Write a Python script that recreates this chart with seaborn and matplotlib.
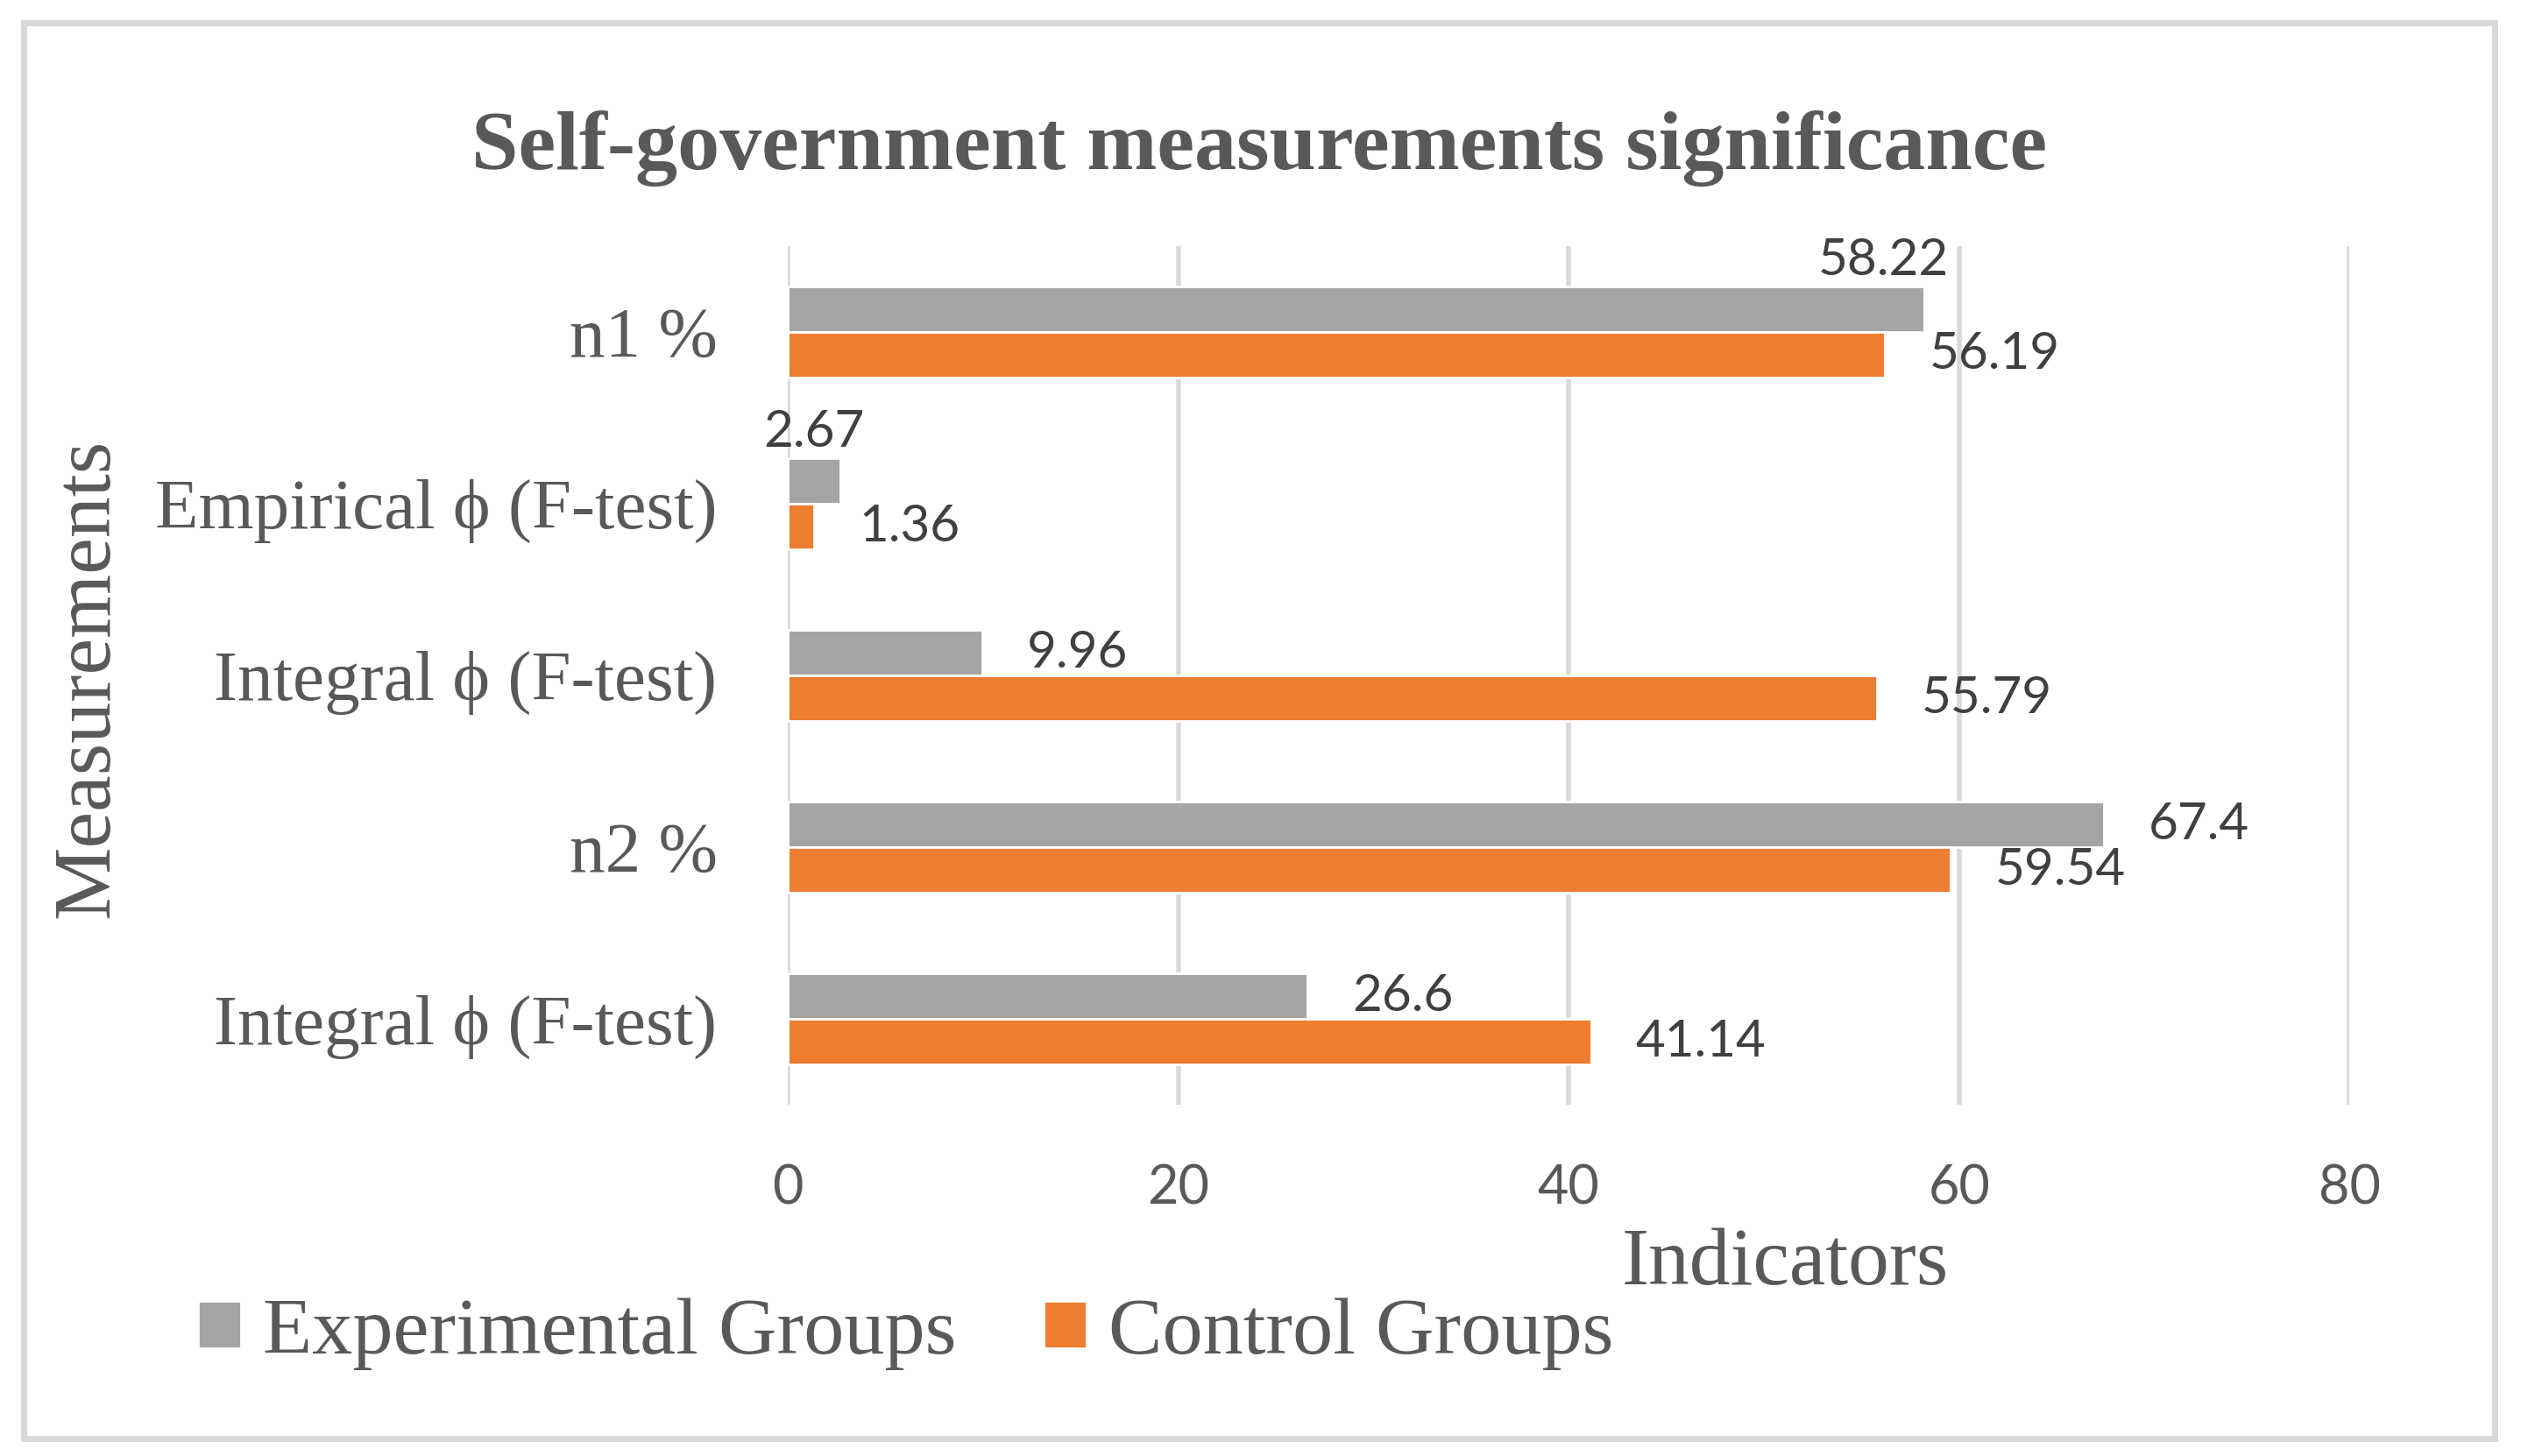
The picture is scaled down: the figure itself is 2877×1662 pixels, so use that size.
import pandas as pd
import seaborn as sns
import matplotlib

matplotlib.use('Agg')
import matplotlib.pyplot as plt
from matplotlib.patches import Rectangle

# data (top to bottom)
measurements = ["n1 %", "Empirical ϕ (F-test)", "Integral ϕ (F-test)", "n2 %", "Integral ϕ (F-test)"]
experimental = [58.22, 2.67, 9.96, 67.4, 26.6]
control = [56.19, 1.36, 55.79, 59.54, 41.14]
groups = ["Experimental Groups", "Control Groups"]
x_ticks = [0, 20, 40, 60, 80]

GRAY = "#a5a5a5"
ORANGE = "#ed7d31"
TXT = "#595959"
LBL = "#404040"
SERIF = ["Liberation Serif", "DejaVu Serif"]
SANS = ["Lato", "DejaVu Sans"]

df = pd.DataFrame({
    "row": list(range(len(measurements))) * 2,
    "group": [groups[0]] * len(experimental) + [groups[1]] * len(control),
    "value": experimental + control,
})

sns.set_style("white")
plt.rcParams['font.family'] = SERIF

fig = plt.figure(figsize=(14.385, 8.31), dpi=200)
ax = fig.add_axes([0.3125, 0.241, 0.6195, 0.590])

sns.barplot(data=df, x="value", y="row", hue="group", hue_order=groups,
            orient="h", palette=[GRAY, ORANGE], width=0.53, gap=0,
            saturation=1, ax=ax)

handles, labels = ax.get_legend_handles_labels()
ax.get_legend().remove()

ax.set_xlim(0, 80)
ax.set_ylim(len(measurements) - 0.5, -0.5)
ax.set_xticks(x_ticks)
ax.set_xticklabels([str(t) for t in x_ticks], family=SANS, fontsize=22, color=TXT)
ax.set_yticks(range(len(measurements)))
ax.set_yticklabels(measurements, family=SERIF, fontsize=29.2, color=TXT)
ax.tick_params(axis='y', length=0, pad=29)
ax.tick_params(axis='x', length=0, pad=24)
ax.set_xlabel("")
ax.set_ylabel("")
for s in ax.spines.values():
    s.set_visible(False)
ax.grid(axis='x', color="#d9d9d9", linewidth=2.0)
ax.set_axisbelow(True)

# data labels, two of them sit above their bars as in the original
above = {(0, 0), (0, 1)}
for si, cont in enumerate(ax.containers):
    for ri, p in enumerate(cont.patches):
        w = p.get_width()
        txt = f"{w:g}"
        if (si, ri) in above:
            ax.annotate(txt, xy=(w, p.get_y()), xytext=(10, 1), textcoords='offset points',
                        ha='right', va='bottom', family=SANS, fontsize=21, color=LBL)
        else:
            ax.annotate(txt, xy=(w, p.get_y() + p.get_height() / 2), xytext=(18.4, 0),
                        textcoords='offset points', ha='left', va='center',
                        family=SANS, fontsize=21, color=LBL)

fig.text(0.4995, 0.884, "Self-government measurements significance", ha='center',
         va='baseline', fontsize=34.6, fontweight='bold', color=TXT, family=SERIF)
fig.text(0.035, 0.534, "Measurements", rotation=90, ha='center', va='center',
         fontsize=33.8, color=TXT, family=SERIF)
fig.text(0.708, 0.118, "Indicators", ha='center', va='baseline',
         fontsize=33.6, color=TXT, family=SERIF)

fig.legend(handles, labels, loc='center left', bbox_to_anchor=(0.0786, 0.084),
           ncol=2, frameon=False, handlelength=0.53, handleheight=0.53,
           handletextpad=0.27, columnspacing=1.08, borderpad=0, borderaxespad=0,
           labelcolor=TXT, prop={'family': SERIF, 'size': 33.2})

fig.patches.append(Rectangle((27 / 2877, 1 - 1642 / 1662), 2820 / 2877, 1616 / 1662,
                             transform=fig.transFigure, fill=False,
                             edgecolor="#d9d9d9", linewidth=2.5))

fig.savefig("out.png", dpi=200)
